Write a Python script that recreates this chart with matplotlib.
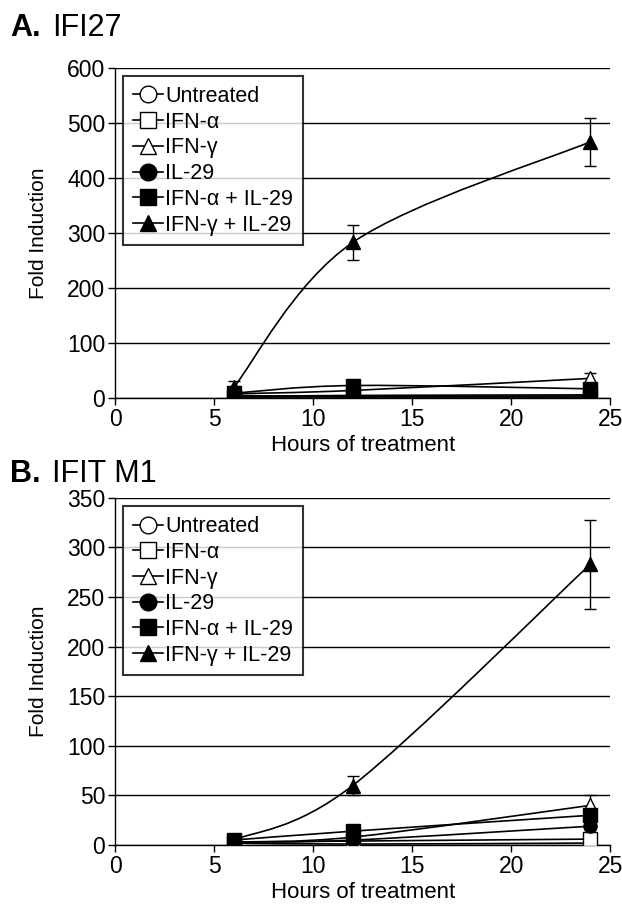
import matplotlib
matplotlib.use('Agg')
import matplotlib.pyplot as plt
from matplotlib.path import Path
from matplotlib.patches import PathPatch
from matplotlib.lines import Line2D
import numpy as np

plt.rcParams['font.family'] = ['Liberation Sans', 'DejaVu Sans']

# ---- data ----
hours = [6, 12, 24]
labels = ['Untreated', 'IFN-\u03b1', 'IFN-\u03b3', 'IL-29',
          'IFN-\u03b1 + IL-29', 'IFN-\u03b3 + IL-29']

a_untreated = [2, 2, 2]
a_ifna = [3, 5, 6]
a_ifng = [8, 14, 36]
a_il29 = [5, 3, 4]
a_ifna_il29 = [9, 23, 17]
a_ifng_il29 = [20, 283, 466]
a_err_ifng = [2, 3, 10]
a_err_ifng_il29 = [12, 32, 44]

b_untreated = [2, 1, 2]
b_ifna = [3, 4, 6]
b_ifng = [3, 8, 40]
b_il29 = [3, 5, 19]
b_ifna_il29 = [5, 14, 30]
b_ifng_il29 = [5, 60, 283]
b_err_ifng = [1, 2, 10]
b_err_ifng_il29 = [2, 10, 45]

markers = ['o', 's', '^', 'o', 's', '^']
filled = [False, False, False, True, True, True]


def smooth_path(x, y):
    # Excel-like smoothed line (Catmull-Rom as cubic bezier)
    pts = np.column_stack([x, y]).astype(float)
    ext = np.vstack([pts[0], pts, pts[-1]])
    verts = [pts[0]]
    codes = [Path.MOVETO]
    for i in range(len(pts) - 1):
        p0, p1, p2, p3 = ext[i], ext[i + 1], ext[i + 2], ext[i + 3]
        c1 = p1 + (p2 - p0) / 6.0
        c2 = p2 - (p3 - p1) / 6.0
        verts += [c1, c2, p2]
        codes += [Path.CURVE4] * 3
    return Path(verts, codes)


def draw_panel(ax, series, errs, ymax, ystep):
    for k, vals in enumerate(series):
        ax.add_patch(PathPatch(smooth_path(hours, vals), fill=False,
                               edgecolor='black', lw=1.2, zorder=3))
    for k, vals in enumerate(series):
        if k in errs:
            ax.errorbar(hours, vals, yerr=errs[k], fmt='none', ecolor='black',
                        elinewidth=1, capsize=4, capthick=1, zorder=4)
        ax.plot(hours, vals, linestyle='none', marker=markers[k], markersize=9.5,
                markerfacecolor='black' if filled[k] else 'white',
                markeredgecolor='black', markeredgewidth=1, zorder=5)
    ax.set_xlim(0, 25)
    ax.set_ylim(0, ymax)
    ax.set_xticks(range(0, 26, 5))
    ax.set_yticks(np.arange(0, ymax + 1, ystep))
    ax.yaxis.grid(True, color='black', lw=1)
    ax.set_axisbelow(True)
    for s in ['top', 'right']:
        ax.spines[s].set_visible(False)
    ax.spines['left'].set_linewidth(1)
    ax.spines['bottom'].set_linewidth(1)
    ax.tick_params(direction='out', length=5, width=1, labelsize=16.5, pad=2)
    ax.set_xlabel('Hours of treatment', fontsize=16, labelpad=3)
    ax.set_ylabel('Fold Induction', fontsize=15, labelpad=14)

    handles = [Line2D([], [], color='black', lw=1.2, marker=markers[k], markersize=12,
                      markerfacecolor='black' if filled[k] else 'white',
                      markeredgecolor='black')
               for k in range(6)]
    leg = ax.legend(handles, labels, loc='upper left', bbox_to_anchor=(0.016, 0.975),
                    borderaxespad=0, fontsize=15.5, handlelength=1.4, handletextpad=0.1,
                    labelspacing=0.22, frameon=True, fancybox=False,
                    borderpad=0.45)
    leg.get_frame().set_edgecolor('black')
    leg.get_frame().set_linewidth(1.5)
    leg.set_zorder(10)


fig = plt.figure(figsize=(6.22, 9.07), dpi=100)
axA = fig.add_axes([0.185, 0.561, 0.796, 0.364])
axB = fig.add_axes([0.185, 0.0683, 0.796, 0.383])

draw_panel(axA, [a_untreated, a_ifna, a_ifng, a_il29, a_ifna_il29, a_ifng_il29],
           {2: a_err_ifng, 5: a_err_ifng_il29}, 600, 100)
draw_panel(axB, [b_untreated, b_ifna, b_ifng, b_il29, b_ifna_il29, b_ifng_il29],
           {2: b_err_ifng, 5: b_err_ifng_il29}, 350, 50)

fig.text(0.016, 0.96, 'A.', fontsize=22, fontweight='bold', va='baseline')
fig.text(0.083, 0.96, 'IFI27', fontsize=22, va='baseline')
fig.text(0.016, 0.469, 'B.', fontsize=22, fontweight='bold', va='baseline')
fig.text(0.083, 0.469, 'IFIT M1', fontsize=22, va='baseline')

fig.savefig('out.png', dpi=100)
